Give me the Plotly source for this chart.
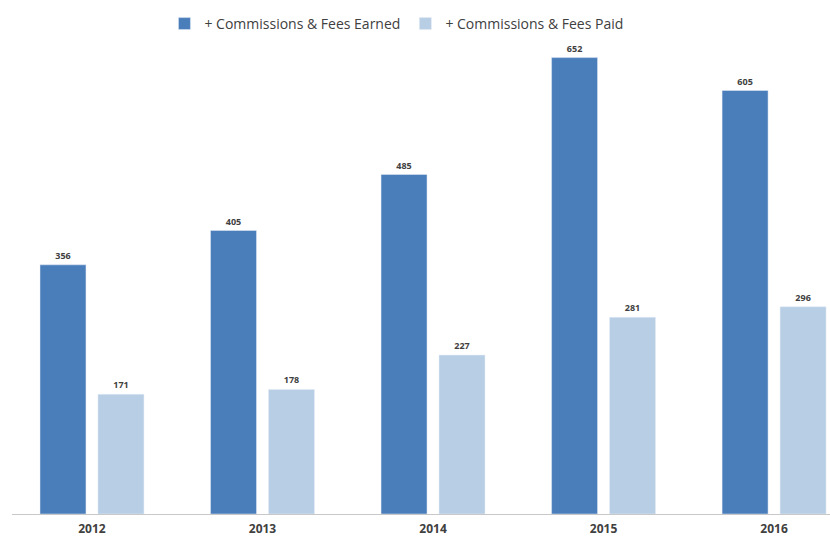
import plotly.graph_objects as go

years = ["2012", "2013", "2014", "2015", "2016"]
fees_earned = [356, 405, 485, 652, 605]
fees_paid = [171, 178, 227, 281, 296]

dark_blue = "#4a7ebb"
light_blue = "#b7cee4"
label_font = dict(family="Open Sans, Lato, sans-serif", size=9, color="#404040", weight="bold")

fig = go.Figure()
fig.add_trace(go.Bar(
    x=years, y=fees_earned, name="+ Commissions & Fees Earned",
    marker=dict(color=dark_blue),
    text=[str(v) for v in fees_earned], textposition="outside",
    textfont=label_font, cliponaxis=False,
))
fig.add_trace(go.Bar(
    x=years, y=fees_paid, name="+ Commissions & Fees Paid",
    marker=dict(color=light_blue),
    text=[str(v) for v in fees_paid], textposition="outside",
    textfont=label_font, cliponaxis=False,
))

fig.update_layout(
    width=830, height=538,
    margin=dict(l=12, r=0, t=24, b=24, autoexpand=False),
    plot_bgcolor="white", paper_bgcolor="white",
    barmode="group", bargap=0.32, bargroupgap=0.207,
    font=dict(family="Open Sans, Lato, sans-serif", color="#404040"),
    legend=dict(
        orientation="h", x=0.47, xanchor="center", y=1.0, yanchor="middle",
        font=dict(size=14, color="#404040"), itemwidth=30,
        traceorder="normal",
    ),
)
fig.update_xaxes(
    type="category", range=[-0.469, 4.328], automargin=False,
    showline=True, linecolor="#c8c8c8", linewidth=1,
    ticks="", tickfont=dict(size=12, color="#404040", family="Open Sans, Lato, sans-serif", weight="bold"),
    ticklabelstandoff=4,
)
fig.update_yaxes(
    range=[0, 700], showgrid=False, showticklabels=False, zeroline=False,
    showline=False, automargin=False,
)

fig.write_html("out.html")
